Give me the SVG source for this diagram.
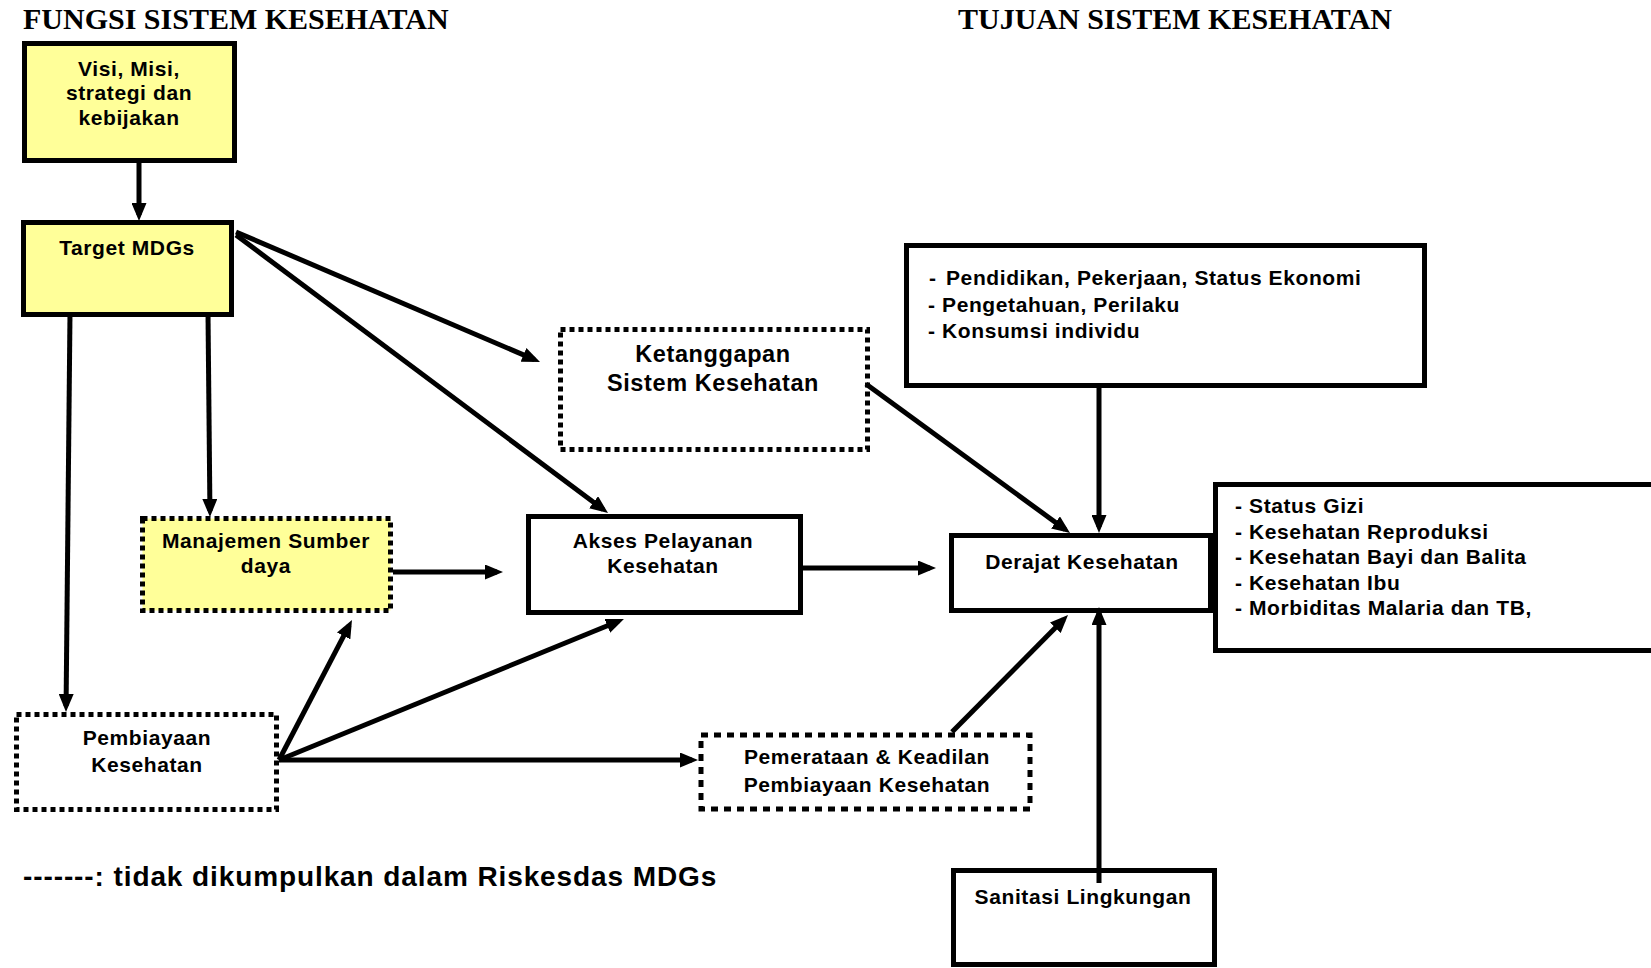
<svg xmlns="http://www.w3.org/2000/svg" width="1651" height="968" viewBox="0 0 1651 968">
<style>
.title{font-family:"Liberation Serif","Times New Roman",serif;font-weight:bold;font-size:30px;fill:#000}
.t{font-family:"Liberation Sans",Arial,sans-serif;font-weight:bold;font-size:21px;letter-spacing:0.6px;fill:#000}
.c{text-anchor:middle}
.big{font-size:23.5px}
.box{fill:#fff;stroke:#000;stroke-width:5}
.yel{fill:#FFFF99}
.dot{stroke-dasharray:5 4}
.conn line{stroke:#000;stroke-width:5;marker-end:url(#ah)}
</style>
<defs>
<marker id="ah" markerUnits="userSpaceOnUse" markerWidth="18" markerHeight="15" refX="12" refY="7.5" orient="auto">
<path d="M0,0 L18,7.5 L0,15 z" fill="#000"/>
</marker>
</defs>
<rect width="1651" height="968" fill="#fff"/>
<text class="title" x="23" y="29">FUNGSI SISTEM KESEHATAN</text>
<text class="title" x="958" y="29">TUJUAN SISTEM KESEHATAN</text>

<g id="visi">
<rect class="box yel" x="24.5" y="43.5" width="210" height="117"/>
<text class="t c" x="129" y="76">Visi, Misi,</text>
<text class="t c" x="129" y="100">strategi dan</text>
<text class="t c" x="129" y="125">kebijakan</text>
</g>
<g id="target">
<rect class="box yel" x="23.5" y="222.5" width="208" height="92"/>
<text class="t c" x="127" y="255">Target MDGs</text>
</g>
<g id="manajemen">
<rect class="box yel dot" x="142.5" y="518.5" width="248" height="92"/>
<text class="t c" x="266" y="548">Manajemen Sumber</text>
<text class="t c" x="266" y="573">daya</text>
</g>
<g id="pembiayaan">
<rect class="box dot" x="16.5" y="714.5" width="260" height="95"/>
<text class="t c" x="147" y="745">Pembiayaan</text>
<text class="t c" x="147" y="772">Kesehatan</text>
</g>
<g id="ketanggapan">
<rect class="box dot" x="560.5" y="329.5" width="307" height="120"/>
<text class="t c big" x="713" y="362">Ketanggapan</text>
<text class="t c big" x="713" y="391">Sistem Kesehatan</text>
</g>
<g id="akses">
<rect class="box" x="528.5" y="516.5" width="272" height="96"/>
<text class="t c" x="663" y="548">Akses Pelayanan</text>
<text class="t c" x="663" y="573">Kesehatan</text>
</g>
<g id="pemerataan">
<rect class="box" x="701" y="735" width="329" height="74" stroke-width="6" stroke-dasharray="7 6"/>
<text class="t c" x="867" y="764">Pemerataan &amp; Keadilan</text>
<text class="t c" x="867" y="792">Pembiayaan Kesehatan</text>
</g>
<g id="determinan">
<rect class="box" x="906.5" y="245.5" width="518" height="140"/>
<text class="t" x="929" y="285">-<tspan x="946">Pendidikan, Pekerjaan, Status Ekonomi</tspan></text>
<text class="t" x="928" y="312">- Pengetahuan, Perilaku</text>
<text class="t" x="928" y="338">- Konsumsi individu</text>
</g>
<g id="indikator">
<rect class="box" x="1215.5" y="484.5" width="500" height="166"/>
<text class="t" x="1235" y="513">- Status Gizi</text>
<text class="t" x="1235" y="538.5">- Kesehatan Reproduksi</text>
<text class="t" x="1235" y="564">- Kesehatan Bayi dan Balita</text>
<text class="t" x="1235" y="589.5">- Kesehatan Ibu</text>
<text class="t" x="1235" y="615">- Morbiditas Malaria dan TB,</text>
</g>
<g id="derajat">
<rect class="box" x="951.5" y="535.5" width="259" height="75"/>
<text class="t c" x="1082" y="569">Derajat Kesehatan</text>
</g>
<g id="sanitasi">
<rect class="box" x="953.5" y="870.5" width="261" height="94"/>
<text class="t c" x="1083" y="904">Sanitasi Lingkungan</text>
</g>

<g id="connectors" class="conn">
<line x1="139" y1="163" x2="139" y2="215"/>
<line x1="236" y1="232" x2="534.5" y2="359.6"/>
<line x1="236" y1="235" x2="603.2" y2="509.4"/>
<line x1="70" y1="313" x2="66.06" y2="706"/>
<line x1="208" y1="313" x2="209.94" y2="511"/>
<line x1="393" y1="572" x2="497" y2="572"/>
<line x1="279" y1="760" x2="349.2" y2="625.3"/>
<line x1="279" y1="760" x2="618.4" y2="621.3"/>
<line x1="279" y1="760" x2="692" y2="760"/>
<line x1="803" y1="568" x2="930" y2="568"/>
<line x1="866" y1="384" x2="1065.2" y2="529.5"/>
<line x1="1099" y1="388" x2="1099" y2="527"/>
<line x1="952" y1="732" x2="1063.8" y2="619.3"/>
<line x1="1099" y1="883" x2="1099" y2="613"/>
</g>

<text class="t" x="23" y="886" style="font-size:28px;letter-spacing:0.9px">-------: tidak dikumpulkan dalam Riskesdas MDGs</text>
</svg>
